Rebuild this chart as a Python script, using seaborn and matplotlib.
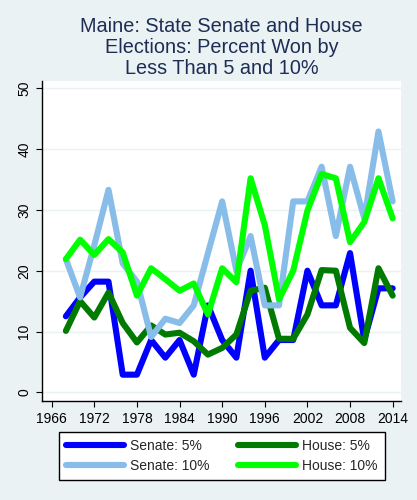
import pandas as pd
import matplotlib
matplotlib.use('Agg')
import matplotlib.pyplot as plt
import seaborn as sns

# Data (percent of seats won by < 5% / < 10%)
years = list(range(1968, 2015, 2))
senate_5 = [12.5, 15.6, 18.2, 18.2, 2.9, 2.9, 8.6, 5.7, 8.6, 2.9, 14.3, 8.6,
            5.7, 20.0, 5.7, 8.6, 8.6, 20.0, 14.3, 14.3, 22.9, 8.6, 17.1, 17.1]
senate_10 = [21.9, 15.6, 24.2, 33.3, 21.2, 18.2, 9.1, 12.1, 11.4, 14.3, 22.9, 31.4,
             20.0, 25.7, 14.3, 14.3, 31.4, 31.4, 37.1, 25.7, 37.1, 28.6, 42.9, 31.4]
house_5 = [10.1, 15.0, 12.3, 16.4, 11.4, 8.2, 11.0, 9.5, 9.8, 8.4, 6.2, 7.3,
           9.5, 16.7, 17.2, 8.8, 8.8, 12.8, 20.1, 20.0, 10.6, 8.1, 20.4, 15.9]
house_10 = [21.9, 25.1, 22.6, 25.2, 23.0, 15.9, 20.4, 18.6, 16.7, 17.9, 12.8, 20.4,
            18.1, 35.2, 27.5, 15.3, 20.0, 29.9, 35.9, 35.2, 24.7, 28.0, 35.2, 28.6]

series_names = ['Senate: 5%', 'House: 5%', 'Senate: 10%', 'House: 10%']
series_vals = [senate_5, house_5, senate_10, house_10]
colors = {'Senate: 5%': '#0000ff', 'House: 5%': '#007a00',
          'Senate: 10%': '#87bde8', 'House: 10%': '#00ff00'}

x_ticks = list(range(1966, 2015, 6))
y_ticks = [0, 10, 20, 30, 40, 50]

# long-form table for seaborn
df = pd.concat([pd.DataFrame({'year': years, 'pct': v, 'series': n})
                for n, v in zip(series_names, series_vals)], ignore_index=True)

bg = '#eaf2f3'
sns.set_style('white')
plt.rcParams['font.family'] = ['Liberation Sans', 'DejaVu Sans']

fig = plt.figure(figsize=(4.17, 5.0), dpi=100, facecolor=bg)
ax = fig.add_axes([0.1014, 0.198, 0.8602, 0.640])
ax.set_facecolor('white')

sns.lineplot(data=df, x='year', y='pct', hue='series', hue_order=series_names,
             palette=colors, linewidth=4.4, ax=ax, legend=False,
             solid_capstyle='round', solid_joinstyle='round')

ax.set_xlim(1964.68, 2015.17)
ax.set_ylim(-1.43, 51.2)
ax.set_xticks(x_ticks)
ax.set_yticks(y_ticks)
ax.yaxis.grid(True, color=bg, linewidth=1.0)
ax.set_axisbelow(True)
ax.set_xlabel('')
ax.set_ylabel('')

for side in ['top', 'right']:
    ax.spines[side].set_visible(False)
for side in ['left', 'bottom']:
    ax.spines[side].set_color('black')
    ax.spines[side].set_linewidth(1.0)

ax.tick_params(axis='both', direction='out', length=4, width=0.8,
               color='black', labelsize=10, labelcolor='black')
ax.tick_params(axis='x', pad=4, bottom=True)
ax.tick_params(axis='y', pad=4, left=True)
for lab in ax.get_yticklabels():
    lab.set_rotation(90)
    lab.set_va('center')

fig.text(0.5314, 0.905, 'Maine: State Senate and House\nElections: Percent Won by\nLess Than 5 and 10%',
         ha='center', va='center', fontsize=14.3, color='#1e2d55', linespacing=1.12)

# legend in Stata-style box below the plot
handles = [plt.Line2D([], [], color=colors[n], linewidth=4.4, solid_capstyle='round')
           for n in ['Senate: 5%', 'Senate: 10%', 'House: 5%', 'House: 10%']]
labels = ['Senate: 5%', 'Senate: 10%', 'House: 5%', 'House: 10%']
leg = fig.legend(handles, labels, ncol=2, loc='center', bbox_to_anchor=(0.532, 0.088),
                 frameon=True, fancybox=False, edgecolor='black', facecolor='white',
                 fontsize=10, handlelength=4.2, handletextpad=0.45, columnspacing=2.0,
                 labelspacing=0.45, borderpad=0.5)
leg.get_frame().set_linewidth(1.0)
leg.get_frame().set_alpha(1)

plt.savefig('out.png', dpi=100, facecolor=bg)
